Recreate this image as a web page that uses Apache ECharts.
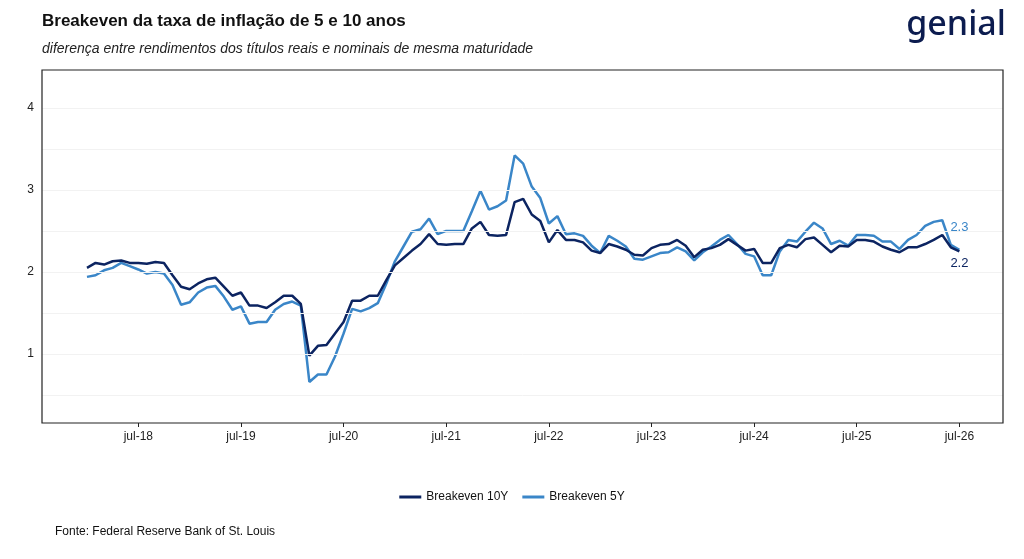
<!DOCTYPE html>
<html><head><meta charset="utf-8">
<script src="https://cdn.jsdelivr.net/npm/echarts@6/dist/echarts.min.js"></script>
<style>html,body{margin:0;padding:0;background:#fff}#c{width:1024px;height:559px}</style>
</head><body><div id="c"></div>
<script>
const startYear = 2018; // first point Jan 2018, monthly
const be10 = [2.05,2.11,2.09,2.13,2.14,2.11,2.11,2.10,2.12,2.11,1.96,1.82,1.79,1.86,1.91,1.93,1.82,1.71,1.75,1.59,
1.59,1.56,1.63,1.71,1.71,1.61,0.98,1.10,1.11,1.25,1.39,1.65,1.65,1.71,1.71,1.90,2.08,2.17,2.26,2.34,
2.46,2.34,2.33,2.34,2.34,2.53,2.61,2.45,2.44,2.45,2.85,2.89,2.70,2.62,2.36,2.51,2.39,2.39,2.36,2.26,
2.23,2.34,2.31,2.27,2.21,2.20,2.29,2.33,2.34,2.39,2.32,2.18,2.27,2.29,2.33,2.40,2.33,2.26,2.28,2.11,
2.11,2.29,2.33,2.30,2.40,2.42,2.33,2.24,2.32,2.31,2.39,2.39,2.37,2.31,2.27,2.24,2.30,2.30,2.34,2.39,
2.45,2.30,2.25];
const be5 = [1.94,1.96,2.02,2.05,2.11,2.07,2.03,1.98,2.00,1.98,1.84,1.60,1.63,1.75,1.81,1.83,1.70,1.54,1.58,1.37,
1.39,1.39,1.54,1.61,1.64,1.59,0.66,0.75,0.75,0.97,1.25,1.55,1.52,1.56,1.62,1.86,2.13,2.31,2.49,2.52,
2.65,2.46,2.50,2.50,2.50,2.74,2.99,2.76,2.80,2.87,3.42,3.32,3.04,2.90,2.59,2.68,2.46,2.47,2.44,2.32,
2.23,2.44,2.38,2.31,2.16,2.15,2.19,2.23,2.24,2.30,2.25,2.14,2.24,2.31,2.39,2.45,2.34,2.22,2.19,1.96,
1.96,2.25,2.39,2.37,2.49,2.60,2.53,2.34,2.38,2.32,2.45,2.45,2.44,2.37,2.37,2.28,2.39,2.45,2.56,2.61,
2.63,2.33,2.27];
const yTicks = [1,2,3,4];
const xTickLabels = ['jul-18','jul-19','jul-20','jul-21','jul-22','jul-23','jul-24','jul-25','jul-26'];

const d10 = be10.map((v,i)=>[i,v]);
const d5 = be5.map((v,i)=>[i,v]);
const xTicks = xTickLabels.map((_,k)=>6+12*k);
const c10 = '#0c2461', c5 = '#3a86c8';

const chart = echarts.init(document.getElementById('c'));
chart.setOption({
  animation:false,
  graphic:[
    {type:'text',left:42,top:13,style:{text:'Breakeven da taxa de inflação de 5 e 10 anos',font:'bold 17px Arial, "Liberation Sans"',fill:'#111'}},
    {type:'text',left:42,top:42,style:{text:'diferença entre rendimentos dos títulos reais e nominais de mesma maturidade',font:'italic 14px Arial, "Liberation Sans"',fill:'#222'}},
    {type:'text',right:18,top:8,style:{text:'genial',font:'500 34px "Noto Sans", Arial',fill:'#0c1c4f'}},
    {type:'text',left:55,top:526,style:{text:'Fonte: Federal Reserve Bank of St. Louis',font:'12px Arial, "Liberation Sans"',fill:'#111'}},
    {type:'rect',shape:{x:42,y:70,width:961,height:353},style:{fill:'none',stroke:'#222',lineWidth:1.2},z:10}
  ],
  grid:{left:42,right:21,top:70,bottom:136},
  legend:{bottom:51,left:'center',itemWidth:22,itemHeight:3,itemGap:14,icon:'rect',
    textStyle:{fontSize:12,color:'#111',fontFamily:'Arial'},
    data:['Breakeven 10Y','Breakeven 5Y']},
  xAxis:{type:'value',min:-5.26,max:107.1,
    axisLine:{show:false},splitLine:{show:false},
    axisTick:{show:true,customValues:xTicks,length:4,lineStyle:{color:'#222'}},
    axisLabel:{customValues:xTicks,color:'#222',fontSize:12,margin:8,
      formatter:v=>xTickLabels[Math.round((v-6)/12)]}},
  yAxis:{type:'value',min:0.16,max:4.46,
    axisLine:{show:false},splitLine:{show:false},
    axisTick:{show:true,customValues:yTicks,length:4,lineStyle:{color:'#222'}},
    axisLabel:{customValues:yTicks,color:'#222',fontSize:12,margin:8}},
  series:[
    {name:'Breakeven 10Y',type:'line',data:d10,symbol:'none',z:3,
      lineStyle:{color:c10,width:2.5},itemStyle:{color:c10},
      endLabel:{show:true,formatter:()=>'2.2',color:c10,fontSize:13,offset:[-17,12]},
      markLine:{silent:true,symbol:'none',label:{show:false},lineStyle:{color:'#f2f2f2',width:1,type:'solid'},
        data:[0.5,1,1.5,2,2.5,3,3.5,4].map(v=>({yAxis:v}))}},
    {name:'Breakeven 5Y',type:'line',data:d5,symbol:'none',z:2,
      lineStyle:{color:c5,width:2.5},itemStyle:{color:c5},
      endLabel:{show:true,formatter:()=>'2.3',color:c5,fontSize:13,offset:[-17,-22]}}
  ]
});
</script></body></html>
